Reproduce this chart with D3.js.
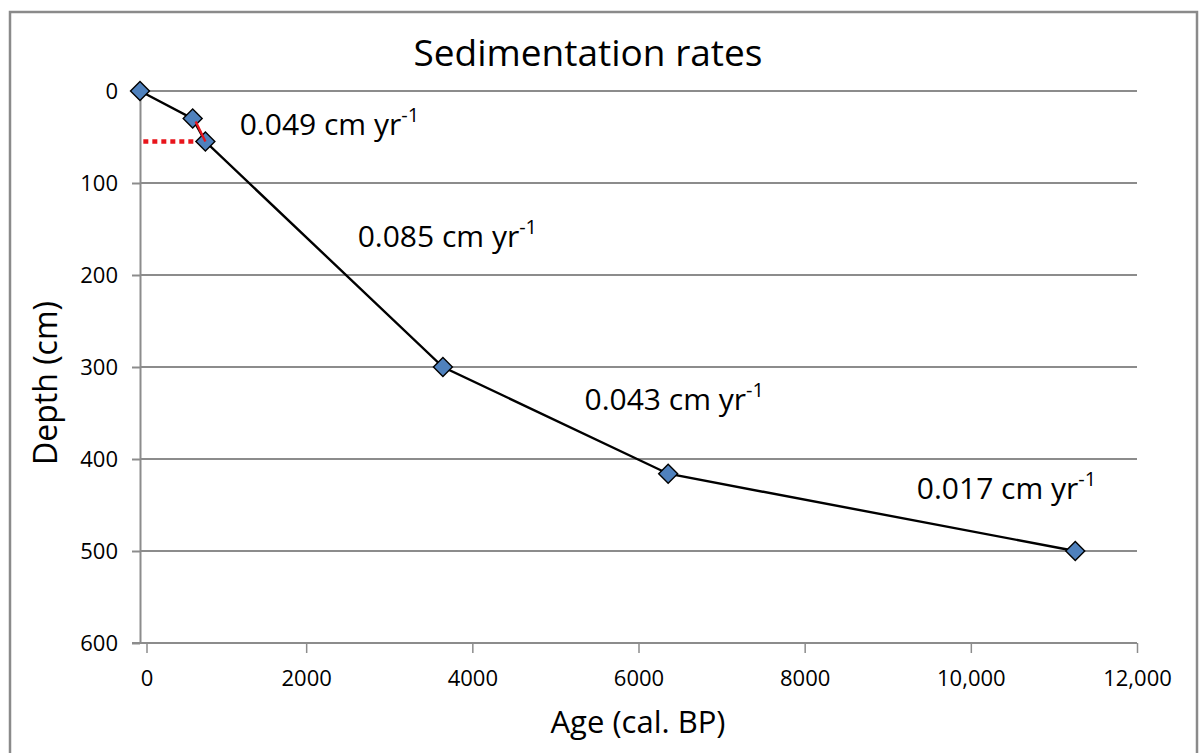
<!DOCTYPE html>
<html>
<head>
<meta charset="utf-8">
<script src="https://cdn.jsdelivr.net/npm/d3@7"></script>
<style>
  body { margin: 0; background: #fff; }
  text { font-family: "Open Sans", sans-serif; fill: #000; }
</style>
</head>
<body>
<svg id="chart"></svg>
<script>
// age-depth points
const ages = [0, 634, 787, 3646, 6357, 11257];
const depths = [0, 30, 55, 300, 416, 500];

// sedimentation rate labels, anchored in data units
const rates = ["0.049", "0.085", "0.043", "0.017"];
const rateAges = [1200, 2620, 5350, 9350];
const rateDepths = [48, 170, 347, 443];

const xTicks = [0, 2000, 4000, 6000, 8000, 10000, 12000];
const yTicks = [0, 100, 200, 300, 400, 500, 600];

const W = 1202, H = 753;
const margin = {top: 91, right: 65, bottom: 110, left: 140};
const width = W - margin.left - margin.right,
      height = H - margin.top - margin.bottom;

const svgRoot = d3.select("#chart")
    .attr("width", W)
    .attr("height", H);

// outer frame
svgRoot.append("rect")
    .attr("x", 10).attr("y", 12)
    .attr("width", 1187).attr("height", 760)
    .attr("fill", "none")
    .attr("stroke", "#8a8a8a")
    .attr("stroke-width", 2.5);

const svg = svgRoot.append("g")
    .attr("transform", `translate(${margin.left},${margin.top})`);

const x = d3.scaleLinear().domain([0, 12000]).range([0, width]);
const y = d3.scaleLinear().domain([0, 600]).range([0, height]);

// gridlines
svg.append("g")
    .selectAll("line")
    .data(yTicks.slice(0, -1))
    .enter()
    .append("line")
    .attr("x1", 0).attr("x2", width)
    .attr("y1", d => y(d)).attr("y2", d => y(d))
    .attr("stroke", "#8c8c8c")
    .attr("stroke-width", 2);

// y axis
const yAxis = svg.append("g")
    .call(d3.axisLeft(y).tickValues(yTicks).tickSize(8).tickPadding(14).tickSizeOuter(0));
yAxis.selectAll("text").style("font-size", "22px").attr("font-family", null);

// x axis
const fmt = d => d >= 10000 ? d3.format(",")(d) : String(d);
const xAxis = svg.append("g")
    .attr("transform", `translate(0,${height})`)
    .call(d3.axisBottom(x).tickValues(xTicks).tickFormat(fmt).tickSize(10).tickPadding(17).tickSizeOuter(0));
xAxis.selectAll("text").style("font-size", "22px").attr("font-family", null);
xAxis.selectAll(".tick").filter(d => d === 0)
    .attr("transform", `translate(${x(0) + 7},0)`);
xAxis.select(".domain").attr("d", `M-8,0H${width}`);

[yAxis, xAxis].forEach(a => {
    a.selectAll("path, line").attr("stroke", "#8c8c8c").attr("stroke-width", 2);
});
xAxis.selectAll(".tick line").attr("stroke-width", 1.5);

// series line
svg.append("path")
    .datum(ages.map((a, i) => [a, depths[i]]))
    .attr("fill", "none")
    .attr("stroke", "#000")
    .attr("stroke-width", 2.4)
    .attr("d", d3.line().x(d => x(d[0])).y(d => y(d[1])));

// red dashed marker to the axis
svg.append("line")
    .attr("x1", x(40)).attr("x2", x(ages[2]))
    .attr("y1", y(depths[2])).attr("y2", y(depths[2]))
    .attr("stroke", "#e8141b")
    .attr("stroke-width", 4.5)
    .attr("stroke-dasharray", "5,4");

// diamonds
svg.selectAll(".pt")
    .data(ages)
    .enter()
    .append("path")
    .attr("class", "pt")
    .attr("transform", (d, i) => `translate(${x(d)},${y(depths[i])}) rotate(45)`)
    .attr("d", d3.symbol(d3.symbolSquare, 180))
    .attr("fill", "#4f81bd")
    .attr("stroke", "#000")
    .attr("stroke-width", 1.4);

// red segment between points 2 and 3
svg.append("line")
    .attr("x1", x(ages[1]) + 3).attr("y1", y(depths[1]) + 3)
    .attr("x2", x(ages[2])).attr("y2", y(depths[2]))
    .attr("stroke", "#e8141b")
    .attr("stroke-width", 2.4);

// rate labels
rates.forEach((r, i) => {
    const t = svg.append("text")
        .attr("x", x(rateAges[i]))
        .attr("y", y(rateDepths[i]))
        .style("font-size", "30px");
    t.append("tspan").text(r + " cm yr");
    t.append("tspan").text("-1").attr("dy", -13).style("font-size", "20px");
});

// titles
svgRoot.append("text")
    .attr("x", 588).attr("y", 66)
    .attr("text-anchor", "middle")
    .style("font-size", "37px")
    .text("Sedimentation rates");

svgRoot.append("text")
    .attr("transform", "translate(57,383) rotate(-90)")
    .attr("text-anchor", "middle")
    .style("font-size", "32px")
    .text("Depth (cm)");

svgRoot.append("text")
    .attr("x", 638).attr("y", 733)
    .attr("text-anchor", "middle")
    .style("font-size", "31px")
    .text("Age (cal. BP)");
</script>
</body>
</html>
